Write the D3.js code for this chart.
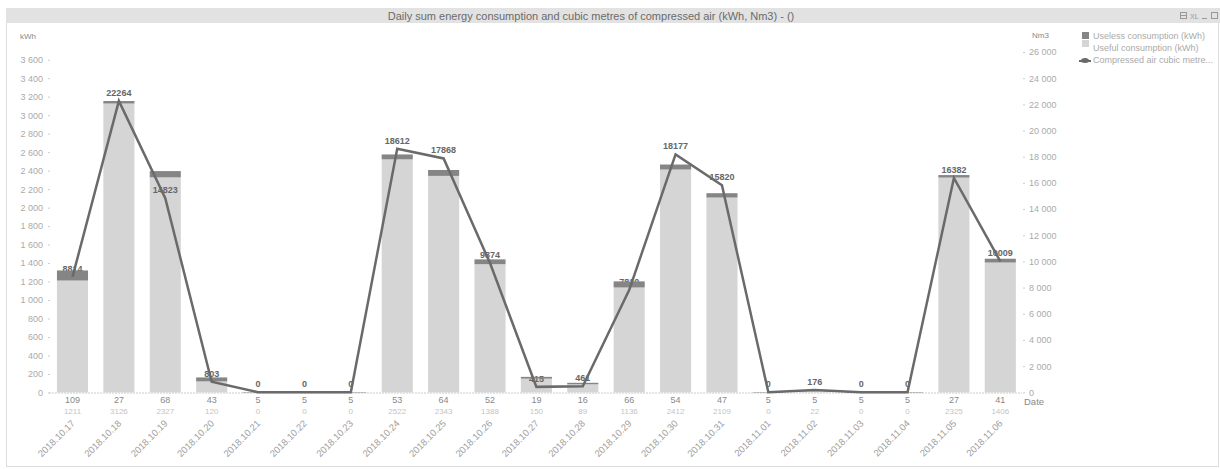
<!DOCTYPE html>
<html>
<head>
<meta charset="utf-8">
<script src="https://cdn.jsdelivr.net/npm/d3@7/dist/d3.min.js"></script>
<style>
  html, body { margin: 0; padding: 0; background: #fff; }
  svg { display: block; font-family: "Liberation Sans", Arial, sans-serif; }
</style>
</head>
<body>
<svg id="chart" width="1220" height="469"></svg>
<script>
// Daily energy (kWh) split into useful / useless, plus compressed air volume (Nm3)
const dates = ["2018.10.17","2018.10.18","2018.10.19","2018.10.20","2018.10.21","2018.10.22","2018.10.23",
  "2018.10.24","2018.10.25","2018.10.26","2018.10.27","2018.10.28","2018.10.29","2018.10.30",
  "2018.10.31","2018.11.01","2018.11.02","2018.11.03","2018.11.04","2018.11.05","2018.11.06"];
const uselessKwh = [109,27,68,43,5,5,5,53,64,52,19,16,66,54,47,5,5,5,5,27,41];
const usefulKwh = [1211,3126,2327,120,0,0,0,2522,2343,1388,150,89,1136,2412,2109,0,22,0,0,2325,1406];
const airNm3 = [8814,22264,14823,803,0,0,0,18612,17868,9874,415,461,7810,18177,15820,0,176,0,0,16382,10009];
const kwhTicks = d3.range(0, 3601, 200);
const nm3Ticks = d3.range(0, 26001, 2000);
const legendItems = ["Useless consumption (kWh)", "Useful consumption (kWh)", "Compressed air cubic metre..."];
const titleText = "Daily sum energy consumption and cubic metres of compressed air (kWh, Nm3) - ()";

const svg = d3.select("#chart");
const fmt = v => d3.format(",")(v).replace(/,/g, " ");

// frame and caption bar
svg.append("rect").attr("x", 6.5).attr("y", 8.5).attr("width", 1212).attr("height", 458)
  .attr("fill", "none").attr("stroke", "#dcdcdc");
svg.append("rect").attr("x", 6).attr("y", 8).attr("width", 1214).attr("height", 15).attr("fill", "#e2e2e2");
svg.append("text").attr("x", 591).attr("y", 19.5).attr("text-anchor", "middle")
  .attr("font-size", 11).attr("fill", "#6a6a6a").text(titleText);

// caption bar icons
const ic = svg.append("g").attr("stroke", "#999").attr("fill", "none").attr("stroke-width", 1);
ic.append("rect").attr("x", 1180.5).attr("y", 12.5).attr("width", 6).attr("height", 6);
ic.append("line").attr("x1", 1181).attr("x2", 1186).attr("y1", 15.5).attr("y2", 15.5);
svg.append("text").attr("x", 1190).attr("y", 19).attr("font-size", 7).attr("fill", "#999").text("XL");
ic.append("line").attr("x1", 1202).attr("x2", 1207).attr("y1", 18.5).attr("y2", 18.5);
ic.append("rect").attr("x", 1211.5).attr("y", 12.5).attr("width", 6).attr("height", 6);

// scales
const x = d3.scaleBand().domain(dates).range([49.3, 1023.5]).paddingInner(0.33).paddingOuter(0.165);
const yL = d3.scaleLinear().domain([0, 3600]).range([392.5, 59.7]);
const yR = d3.scaleLinear().domain([0, 26000]).range([392.3, 52]);

// left axis
const axL = svg.append("g").attr("transform", "translate(50,0)")
  .call(d3.axisLeft(yL).tickValues(kwhTicks).tickSize(2).tickPadding(5).tickFormat(fmt));
axL.select(".domain").remove();
axL.selectAll("line").attr("stroke", "#ccc");
axL.selectAll("text").attr("font-size", 9).attr("fill", "#aaa").attr("font-family", "Liberation Sans, Arial, sans-serif");
svg.append("text").attr("x", 20).attr("y", 39).attr("font-size", 8).attr("fill", "#888").text("kWh");

// right axis
const axR = svg.append("g").attr("transform", "translate(1023,0)")
  .call(d3.axisRight(yR).tickValues(nm3Ticks).tickSize(2).tickPadding(4).tickFormat(fmt));
axR.select(".domain").remove();
axR.selectAll("line").attr("stroke", "#ccc");
axR.selectAll("text").attr("font-size", 9).attr("fill", "#aaa").attr("font-family", "Liberation Sans, Arial, sans-serif");
svg.append("text").attr("x", 1032).attr("y", 38).attr("font-size", 8).attr("fill", "#888").text("Nm3");
svg.append("text").attr("x", 1024).attr("y", 405).attr("font-size", 9.5).attr("fill", "#888").text("Date");

// baseline
svg.append("line").attr("x1", 49).attr("x2", 1022).attr("y1", yL(0) + 0.5).attr("y2", yL(0) + 0.5)
  .attr("stroke", "#ccc").attr("stroke-dasharray", "2,1");

// useful consumption bars
svg.append("g").selectAll("rect").data(dates).join("rect")
  .attr("x", d => x(d)).attr("width", x.bandwidth())
  .attr("y", (d, i) => yL(usefulKwh[i]))
  .attr("height", (d, i) => yL(0) - yL(usefulKwh[i]))
  .attr("fill", "#d5d5d5");

// value labels of the air series
const cx = d => x(d) + x.bandwidth() / 2;
svg.append("g").selectAll("text").data(dates).join("text")
  .attr("x", d => cx(d)).attr("y", (d, i) => yR(airNm3[i]) - 5)
  .attr("text-anchor", "middle").attr("font-size", 9).attr("font-weight", "bold").attr("fill", "#666")
  .text((d, i) => airNm3[i]);

// useless consumption bars stacked on top
svg.append("g").selectAll("rect").data(dates).join("rect")
  .attr("x", d => x(d)).attr("width", x.bandwidth())
  .attr("y", (d, i) => yL(usefulKwh[i] + uselessKwh[i]))
  .attr("height", (d, i) => yL(usefulKwh[i]) - yL(usefulKwh[i] + uselessKwh[i]))
  .attr("fill", "#858585");

// compressed air line
const line = d3.line().x(d => cx(d)).y((d, i) => yR(airNm3[i]));
svg.append("path").datum(dates).attr("d", line)
  .attr("fill", "none").attr("stroke", "#6a6a6a").attr("stroke-width", 2.5).attr("stroke-linejoin", "miter");

// per-day values under the axis
svg.append("g").selectAll("text").data(dates).join("text")
  .attr("x", d => cx(d)).attr("y", 403).attr("text-anchor", "middle")
  .attr("font-size", 9).attr("fill", "#888").text((d, i) => uselessKwh[i]);
svg.append("g").selectAll("text").data(dates).join("text")
  .attr("x", d => cx(d)).attr("y", 414).attr("text-anchor", "middle")
  .attr("font-size", 8).attr("fill", "#c4c4c4").text((d, i) => usefulKwh[i]);

// rotated date labels
svg.append("g").selectAll("text").data(dates).join("text")
  .attr("transform", d => `translate(${cx(d) + 3},${424}) rotate(-45)`)
  .attr("text-anchor", "end").attr("font-size", 9.5).attr("fill", "#a0a0a0").text(d => d);

// legend
const lg = svg.append("g").attr("transform", "translate(1082,0)");
lg.append("rect").attr("x", 0).attr("y", 32).attr("width", 7).attr("height", 7).attr("fill", "#858585");
lg.append("rect").attr("x", 0).attr("y", 40).attr("width", 7).attr("height", 7).attr("fill", "#d5d5d5");
lg.append("line").attr("x1", -3).attr("x2", 9).attr("y1", 61).attr("y2", 61).attr("stroke", "#6a6a6a").attr("stroke-width", 2);
lg.append("ellipse").attr("cx", 3).attr("cy", 60.5).attr("rx", 4).attr("ry", 2.5).attr("fill", "#6a6a6a");
lg.selectAll("text.lt").data(legendItems).join("text").attr("class", "lt")
  .attr("x", 11).attr("y", (d, i) => 39 + i * 12).attr("font-size", 9).attr("fill", "#aaa").text(d => d);
</script>
</body>
</html>
